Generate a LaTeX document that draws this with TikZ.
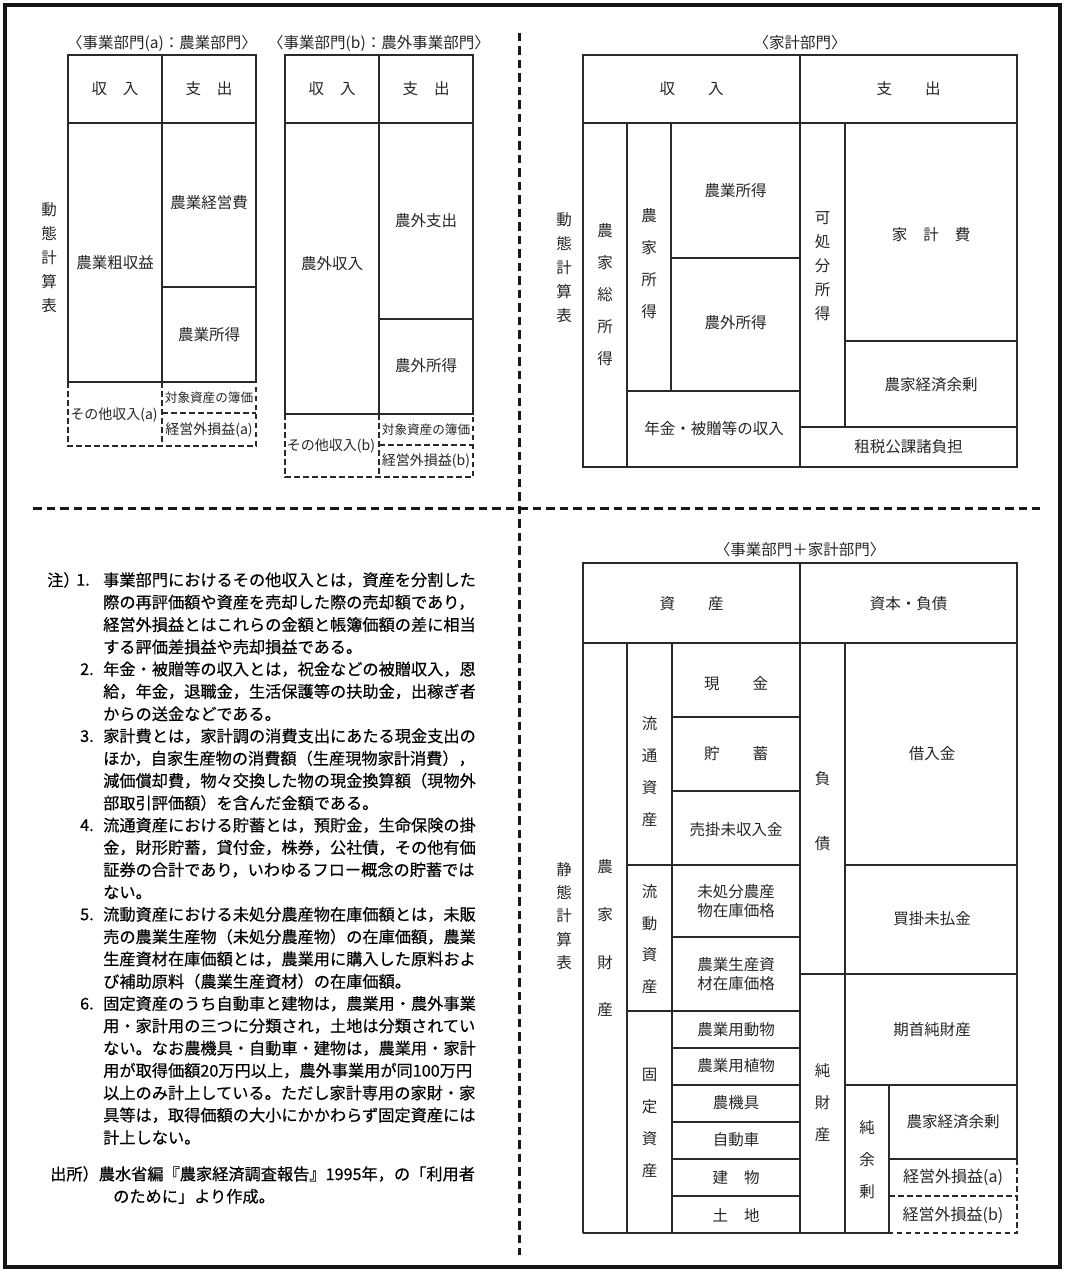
\documentclass[tikz,border=0pt]{standalone}
\usepackage{fontspec}
\setmainfont{Noto Sans CJK JP}
\newfontfamily\notefont[FakeBold=0.4]{Noto Sans CJK JP}
\definecolor{ln}{HTML}{2A2A2A}
\definecolor{tx}{HTML}{262626}
\begin{document}
\begin{tikzpicture}[x=1pt,y=-1pt,
  lbl/.style={font=\fontsize{15.5}{18}\selectfont,inner sep=0pt,text=tx},
  sml/.style={font=\fontsize{#1}{15}\selectfont,inner sep=0pt,text=tx},
  vt/.style={font=\fontsize{15.5}{#1}\selectfont,inner sep=0pt,align=center,text=tx},
  two/.style={font=\fontsize{15.5}{19}\selectfont,inner sep=0pt,align=center,text=tx},
  nt/.style={font=\notefont\fontsize{16.2}{20}\selectfont,inner sep=0pt,anchor=west,text=black},
  bx/.style={draw=ln,line width=1.4pt},
  db/.style={draw=ln,line width=1.3pt,dash pattern=on 5.5pt off 3.5pt},
  sp/.style={draw=black!90,line width=3pt,dash pattern=on 8.5pt off 5pt},
]
\useasboundingbox (0,0) rectangle (1065,1271);
\draw[line width=3.4pt,draw=black!92] (5,5) rectangle (1060,1267);
% separators
\coordinate (vt1) at (519,33); \coordinate (vt2) at (519,1255);
\coordinate (hz1) at (33,508); \coordinate (hz2) at (1040,508);
\draw[sp] (vt1) -- (vt2);
\draw[sp] (hz1) -- (hz2);

% ---------- Box A ----------
\node[lbl] (tA) at (162,43) {〈事業部門(a)：農業部門〉};
\draw[bx] (68,55) rectangle (256,382);
\draw[bx] (68,123) -- (256,123);
\draw[bx] (162,55) -- (162,382);
\draw[bx] (162,287) -- (256,287);
\draw[db] (68,382) -- (68,446) -- (256,446) -- (256,382);
\draw[db] (162,382) -- (162,446);
\draw[db] (162,413) -- (256,413);
\node[lbl] (a1) at (115,89) {収\hspace{16pt}入};
\node[lbl] (a2) at (209,89) {支\hspace{16pt}出};
\node[lbl] (a3) at (115,263) {農業粗収益};
\node[lbl] (a4) at (209,203) {農業経営費};
\node[lbl] (a5) at (209,335) {農業所得};
\node[sml=14] (a6) at (114,415) {その他収入(a)};
\node[sml=12.6] (a7) at (209,398) {対象資産の簿価};
\node[sml=14] (a8) at (209,430) {経営外損益(a)};
\node[vt=24] (a9) at (49,258) {動\\態\\計\\算\\表};

% ---------- Box B ----------
\node[lbl] (tB) at (379,43) {〈事業部門(b)：農外事業部門〉};
\draw[bx] (285,55) rectangle (473,414);
\draw[bx] (285,123) -- (473,123);
\draw[bx] (379,55) -- (379,414);
\draw[bx] (379,319) -- (473,319);
\draw[db] (285,414) -- (285,477) -- (473,477) -- (473,414);
\draw[db] (379,414) -- (379,477);
\draw[db] (379,445) -- (473,445);
\node[lbl] (b1) at (332,89) {収\hspace{16pt}入};
\node[lbl] (b2) at (426,89) {支\hspace{16pt}出};
\node[lbl] (b3) at (332,264) {農外収入};
\node[lbl] (b4) at (426,221) {農外支出};
\node[lbl] (b5) at (426,366) {農外所得};
\node[sml=14] (b6) at (331,446) {その他収入(b)};
\node[sml=12.6] (b7) at (426,430) {対象資産の簿価};
\node[sml=14] (b8) at (426,461) {経営外損益(b)};

% ---------- Household ----------
\node[lbl] (tH) at (800,43) {〈家計部門〉};
\draw[bx] (583,55) rectangle (1017,467);
\draw[bx] (583,123) -- (1017,123);
\draw[bx] (800,55) -- (800,467);
\draw[bx] (627,123) -- (627,467);
\draw[bx] (671,123) -- (671,391);
\draw[bx] (671,258) -- (800,258);
\draw[bx] (627,391) -- (800,391);
\draw[bx] (845,123) -- (845,427);
\draw[bx] (845,341) -- (1017,341);
\draw[bx] (800,427) -- (1017,427);
\node[vt=24] (h0) at (564,268) {動\\態\\計\\算\\表};
\node[lbl] (h1) at (691.5,89) {収\hspace{33pt}入};
\node[lbl] (h2) at (908.5,89) {支\hspace{33pt}出};
\node[vt=32] (h3) at (605,295) {農\\家\\総\\所\\得};
\node[vt=32] (h4) at (649,264) {農\\家\\所\\得};
\node[lbl] (h5) at (735.5,191) {農業所得};
\node[lbl] (h6) at (735.5,323) {農外所得};
\node[lbl] (h7) at (714,429) {年金・被贈等の収入};
\node[vt=24] (h8) at (822.5,266) {可\\処\\分\\所\\得};
\node[lbl] (h9) at (931,235) {家\hspace{16pt}計\hspace{16pt}費};
\node[lbl] (h10) at (931,385) {農家経済余剰};
\node[lbl] (h11) at (908.5,447) {租税公課諸負担};

% ---------- Balance ----------
\node[lbl] (tS) at (800,550) {〈事業部門＋家計部門〉};
\draw[bx] (583,1233) -- (583,563) -- (1017,563) -- (1017,1159);
\draw[bx] (583,1233) -- (889,1233);
\draw[db] (1017,1159) -- (1017,1233) -- (889,1233);
\draw[db] (889,1196) -- (1017,1196);
\draw[bx] (583,643) -- (1017,643);
\draw[bx] (800,563) -- (800,1233);
\draw[bx] (627,643) -- (627,1233);
\draw[bx] (672,643) -- (672,1233);
\foreach \yy in {717,791,937,1048,1085,1122,1159,1196}
  \draw[bx] (672,\yy) -- (800,\yy);
\draw[bx] (627,865) -- (800,865);
\draw[bx] (627,1011) -- (800,1011);
\draw[bx] (845,643) -- (845,1233);
\draw[bx] (845,865) -- (1017,865);
\draw[bx] (800,974) -- (1017,974);
\draw[bx] (845,1085) -- (1017,1085);
\draw[bx] (889,1085) -- (889,1233);
\draw[bx] (889,1159) -- (1017,1159);
\node[lbl] (s1) at (691.5,604) {資\hspace{33pt}産};
\node[lbl] (s2) at (908.5,604) {資本・負債};
\node[vt=23.3] (s3) at (564,916) {静\\態\\計\\算\\表};
\node[vt=47.7] (s4) at (605,938.5) {農\\家\\財\\産};
\node[vt=31.9] (s5) at (649.5,771.5) {流\\通\\資\\産};
\node[vt=31.5] (s6) at (649.5,939) {流\\動\\資\\産};
\node[vt=32] (s7) at (649.5,1122.5) {固\\定\\資\\産};
\node[lbl] (s8) at (736,683.7) {現\hspace{33pt}金};
\node[lbl] (s9) at (736,754) {貯\hspace{33pt}蓄};
\node[lbl] (s10) at (736,830) {売掛未収入金};
\node[two] (s11) at (736,901) {未処分農産\\物在庫価格};
\node[two] (s12) at (736,974.5) {農業生産資\\材在庫価格};
\node[lbl] (s13) at (736,1030) {農業用動物};
\node[lbl] (s14) at (736,1066) {農業用植物};
\node[lbl] (s15) at (736,1103) {農機具};
\node[lbl] (s16) at (736,1140) {自動車};
\node[lbl] (s17) at (736,1178) {建\hspace{16pt}物};
\node[lbl] (s18) at (736,1215) {土\hspace{16pt}地};
\node[vt=65] (s19) at (822.5,811.5) {負\\債};
\node[vt=32] (s20) at (822.5,1103) {純\\財\\産};
\node[vt=32] (s21) at (867,1160) {純\\余\\剰};
\node[lbl] (s22) at (932,754) {借入金};
\node[lbl] (s23) at (932,919) {買掛未払金};
\node[lbl] (s24) at (932,1030) {期首純財産};
\node[lbl] (s25) at (953,1122) {農家経済余剰};
\node[sml=16] (s26) at (953,1177) {経営外損益(a)};
\node[sml=16] (s27) at (953,1215) {経営外損益(b)};

% ---------- Notes ----------
\node[nt] (m0) at (47,580) {注）};
\node[nt] (k1) at (76,580) {1.};
\node[nt] (k2) at (80,669.2) {2.};
\node[nt] (k3) at (80,736.1) {3.};
\node[nt] (k4) at (80,825.3) {4.};
\node[nt] (k5) at (80,914.5) {5.};
\node[nt] (k6) at (80,1003.7) {6.};
\foreach \t [count=\i from 0] in {%
事業部門におけるその他収入とは，資産を分割した,
際の再評価額や資産を売却した際の売却額であり，,
経営外損益とはこれらの金額と帳簿価額の差に相当,
する評価差損益や売却損益である。,
年金・被贈等の収入とは，祝金などの被贈収入，恩,
給，年金，退職金，生活保護等の扶助金，出稼ぎ者,
からの送金などである。,
家計費とは，家計調の消費支出にあたる現金支出の,
ほか，自家生産物の消費額（生産現物家計消費），,
減価償却費，物々交換した物の現金換算額（現物外,
部取引評価額）を含んだ金額である。,
流通資産における貯蓄とは，預貯金，生命保険の掛,
金，財形貯蓄，貸付金，株券，公社債，その他有価,
証券の合計であり，いわゆるフロー概念の貯蓄では,
ない。,
流動資産における未処分農産物在庫価額とは，未販,
売の農業生産物（未処分農産物）の在庫価額，農業,
生産資材在庫価額とは，農業用に購入した原料およ,
び補助原料（農業生産資材）の在庫価額。,
固定資産のうち自動車と建物は，農業用・農外事業,
用・家計用の三つに分類され，土地は分類されてい,
ない。なお農機具・自動車・建物は，農業用・家計,
用が取得価額20万円以上，農外事業用が同100万円,
以上のみ計上している。ただし家計専用の家財・家,
具等は，取得価額の大小にかかわらず固定資産には,
計上しない。}
  \node[nt] (n\i) at (103,580+22.3*\i) {\t};
\node[nt] (q1) at (50,1174) {出所）農水省編『農家経済調査報告』1995年，の「利用者};
\node[nt] (q2) at (113,1196.3) {のために」より作成。};
\end{tikzpicture}
\end{document}
